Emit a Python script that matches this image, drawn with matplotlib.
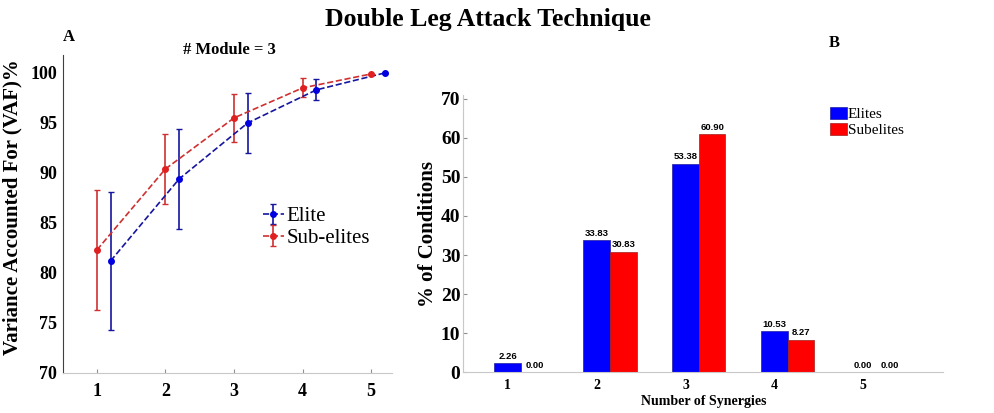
import numpy as np
from matplotlib import pyplot as plt

# panel A: VAF vs number of modules
modules = [1, 2, 3, 4, 5]
elite_vaf = [81.2, 89.4, 95.0, 98.3, 100.0]
elite_err = [6.9, 5.0, 3.0, 1.05, 0.0]
sub_vaf = [82.3, 90.4, 95.5, 98.5, 99.9]
sub_err = [6.0, 3.5, 2.4, 0.95, 0.0]

# panel B: % of conditions per number of synergies
synergies = [1, 2, 3, 4, 5]
elites_pct = [2.26, 33.83, 53.38, 10.53, 0.00]
subelites_pct = [0.00, 30.83, 60.90, 8.27, 0.00]

SERIF = 'Liberation Serif'
SANS = 'Liberation Sans'

fig = plt.figure(figsize=(9.94, 4.13), dpi=100)

fig.text(0.491, 0.953, "Double Leg Attack Technique", ha='center', va='center',
         family=SERIF, weight='bold', fontsize=18.5)

# ---- panel A ----
axA = fig.add_axes([0.063, 0.097, 0.331, 0.770])
x_el = np.array(modules) + 0.2
x_sub = np.array(modules)
axA.errorbar(x_el, elite_vaf, yerr=elite_err, color='#1515a0', ecolor='#1515a0',
             linestyle='--', marker='o', markersize=4, capsize=2, linewidth=1.2,
             markerfacecolor='#0000e0', markeredgecolor='#0000e0', label='Elite')
axA.errorbar(x_sub, sub_vaf, yerr=sub_err, color='#d03030', ecolor='#d03030',
             linestyle='--', marker='o', markersize=4, capsize=2, linewidth=1.2,
             markerfacecolor='#e02020', markeredgecolor='#e02020', label='Sub-elites')
axA.set_xlim(0.5, 5.3)
axA.set_ylim(70, 101.8)
axA.set_xticks(modules)
axA.set_yticks([70, 75, 80, 85, 90, 95, 100])
for s in ['top', 'right']:
    axA.spines[s].set_visible(False)
axA.spines['bottom'].set_color('#c8c8c8')
axA.spines['left'].set_color('#404040')
axA.tick_params(axis='x', direction='in', length=3, color='#909090', pad=7)
axA.tick_params(axis='y', length=0, pad=4)
for lab in axA.get_xticklabels() + axA.get_yticklabels():
    lab.set_family(SERIF)
    lab.set_weight('bold')
    lab.set_fontsize(13)
axA.set_ylabel("Variance Accounted For (VAF)%", family=SERIF, weight='bold', fontsize=15)
axA.yaxis.set_label_coords(-0.122, 0.52)
fig.text(0.231, 0.878, "# Module = 3", ha='center', va='center',
         family=SERIF, weight='bold', fontsize=12)
leg = axA.legend(loc='center left', bbox_to_anchor=(0.583, 0.458), frameon=False,
                 prop={'family': SERIF, 'size': 15}, handlelength=1.0, handletextpad=0.15,
                 labelspacing=0.1, borderaxespad=0)
fig.text(0.063, 0.91, "A", family=SERIF, weight='bold', fontsize=12, ha='left', va='center')

# ---- panel B ----
axB = fig.add_axes([0.466, 0.099, 0.483, 0.671])
w = 0.3
xs = np.array(synergies, dtype=float)
b1 = axB.bar(xs, elites_pct, width=w, color='#0000ff', edgecolor='#2020a0', linewidth=0.5, label='Elites')
b2 = axB.bar(xs + w, subelites_pct, width=w, color='#ff0000', edgecolor='#a02020', linewidth=0.5, label='Subelites')
for bars, vals in [(b1, elites_pct), (b2, subelites_pct)]:
    for rect, v in zip(bars, vals):
        axB.text(rect.get_x() + rect.get_width() / 2, rect.get_height() + 0.6, f"{v:.2f}",
                 ha='center', va='bottom', family=SANS, weight='bold', fontsize=6.8)
axB.set_xlim(0.5, 5.9)
axB.set_ylim(0, 71)
axB.set_xticks(synergies)
axB.set_yticks(range(0, 71, 10))
for s in ['top', 'right']:
    axB.spines[s].set_visible(False)
axB.spines['bottom'].set_color('#c8c8c8')
axB.spines['left'].set_color('#c8c8c8')
axB.tick_params(axis='x', length=0, pad=5)
axB.tick_params(axis='y', direction='in', length=3, color='#909090', pad=2)
for lab in axB.get_xticklabels():
    lab.set_family(SERIF)
    lab.set_weight('bold')
    lab.set_fontsize(10)
for lab in axB.get_yticklabels():
    lab.set_family(SERIF)
    lab.set_weight('bold')
    lab.set_fontsize(14)
axB.set_xlabel("Number of Synergies", family=SERIF, weight='bold', fontsize=10, labelpad=2)
axB.set_ylabel("% of Conditions", family=SERIF, weight='bold', fontsize=15, labelpad=2)
axB.legend(loc='upper right', bbox_to_anchor=(0.93, 0.98), frameon=False,
           prop={'family': SERIF, 'size': 11}, handlelength=1.1, handleheight=0.9,
           handletextpad=0.05, labelspacing=0.1, borderaxespad=0)
fig.text(0.834, 0.895, "B", family=SERIF, weight='bold', fontsize=12, ha='left', va='center')

fig.savefig("out.png", dpi=100)
